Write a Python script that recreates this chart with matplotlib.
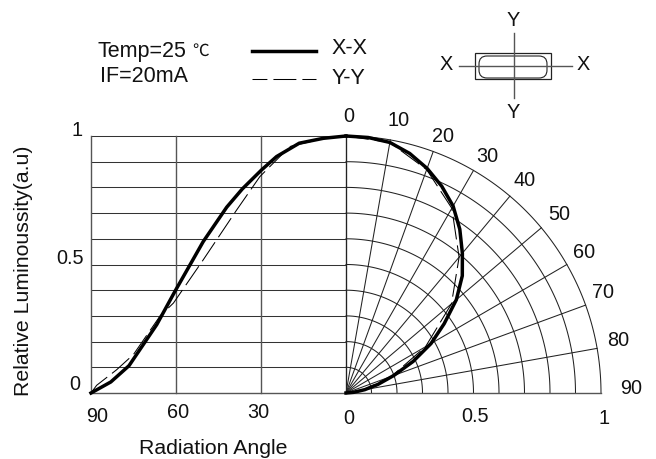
import numpy as np
import matplotlib
matplotlib.use("Agg")
import matplotlib.pyplot as plt
from matplotlib.patches import Rectangle, FancyBboxPatch

plt.rcParams['font.family'] = ['Liberation Sans', 'Noto Sans CJK SC', 'DejaVu Sans']

# Left (Cartesian) panel: angle in degrees, relative luminosity
left_xx_angle = [90, 83, 76.6, 66.8, 60.4, 50.4, 42.1, 36.6, 29.8, 24.5, 16.5, 8, 0]
left_xx_value = [0, .043, .106, .266, .395, .589, .723, .794, .868, .92, .972, .991, 1]
left_yy_angle = [90, 88, 81, 75, 65.6, 60.9, 50.4, 44.5, 38.6, 30.4, 19.8, 8, 0]
left_yy_value = [0, .03, .09, .15, .30, .35, .518, .615, .712, .842, .959, .99, 1]

# Right (polar) panel
right_xx_angle = [0, 5, 10, 15, 20, 25, 30, 35, 40, 45, 50, 55, 60, 65, 70, 75, 80, 85, 90]
right_xx_value = [1, .998, .99, .965, .93, .888, .84, .778, .71, .645, .565, .47, .385, .29, .20, .13, .075, .03, 0]
right_yy_angle = [0, 10, 20, 30, 40, 50, 60, 70, 80, 90]
right_yy_value = [1, .99, .925, .83, .69, .54, .36, .19, .07, 0]

polar_angles = [0, 10, 20, 30, 40, 50, 60, 70, 80, 90]
radii = [.1, .2, .3, .4, .5, .6, .7, .8, .9, 1]
left_angles = [90, 60, 30, 0]
left_ticks = ['90', '60', '30', '0']

W, H = 656, 459
fig = plt.figure(figsize=(W/100, H/100), dpi=100)
ax = fig.add_axes([91/W, 1-393/H, 510/W, 257/H])
ax.set_xlim(-1, 1)
ax.set_ylim(0, 1)
ax.axis('off')

G = '#333333'
lw = .75
THICK = 2.5
DASH = (22, 5.8)
for r in radii:
    ax.plot([-1, 0], [r, r], color=G, lw=lw, clip_on=False)
ax.plot([-1, 0], [0, 0], color='#555555', lw=1.0, clip_on=False)
for a in left_angles:
    ax.plot([-a/90]*2, [0, 1], color='#555555', lw=1.0, clip_on=False)

t = np.radians(np.linspace(0, 90, 91))
for r in radii:
    ax.plot(r*np.sin(t), r*np.cos(t), color='#222222', lw=lw, clip_on=False)
for a in polar_angles:
    ra = np.radians(a)
    ax.plot([0, np.sin(ra)], [0, np.cos(ra)],
            color='#555555' if a == 90 else '#222222',
            lw=1.0 if a == 90 else lw, clip_on=False)

ax.plot(-np.array(left_yy_angle)/90, left_yy_value, color='k', lw=.75,
        dashes=DASH, clip_on=False)
ax.plot(-np.array(left_xx_angle)/90, left_xx_value, color='k', lw=THICK, clip_on=False)
ry = np.radians(right_yy_angle)
ax.plot(np.array(right_yy_value)*np.sin(ry), np.array(right_yy_value)*np.cos(ry),
        color='k', lw=.75, dashes=DASH, clip_on=False)
rx = np.radians(right_xx_angle)
ax.plot(np.array(right_xx_value)*np.sin(rx), np.array(right_xx_value)*np.cos(rx),
        color='k', lw=THICK, clip_on=False)

ov = fig.add_axes([0, 0, 1, 1], facecolor='none')
ov.set_xlim(0, W)
ov.set_ylim(H, 0)
ov.axis('off')
fs = 14.3
def T(x, y, s, ha='center', va='center', size=fs, **k):
    ov.text(x, y, s, ha=ha, va=va, fontsize=size, color='#111111', **k)

T(77, 130, '1'); T(70, 258, '0.5'); T(75, 385, '0')
for s, x, y in zip(left_ticks, [97, 178, 258, 349], [417, 412, 412, 418]):
    T(x, y, s)
T(475, 417, '0.5')
T(604, 418, '1')
T(213, 454.3, 'Radiation Angle', va='baseline', size=15.3)
T(24, 270.5, 'Relative Luminoussity(a.u)', rotation=90, size=15.3)

labs = ['0', '10', '20', '30', '40', '50', '60', '70', '80', '90']
pos = [(349, 117), (399, 120), (443, 136), (487, 156), (525, 180),
       (559, 215), (584, 252), (603, 293), (618, 340), (631, 388)]
for s, (x, y) in zip(labs, pos):
    T(x, y, s)

T(98, 51, 'Temp=25', ha='left', size=15.5)
T(192, 51, '℃', ha='left', size=12, family=['Noto Sans CJK SC'])
T(100, 77, 'IF=20mA', ha='left', size=15.5)
ov.plot([252, 316], [51, 51], color='k', lw=THICK)
ov.plot([252, 316], [79, 79], color='k', lw=.75, linestyle=(7.7, DASH))
T(332, 48, 'X-X', ha='left', size=15.5)
T(332, 78, 'Y-Y', ha='left', size=15.5)

ov.add_patch(Rectangle((475, 53), 76, 26, fill=False, ec='#222222', lw=.9))
ov.add_patch(FancyBboxPatch((479, 56), 68, 22, boxstyle='round,pad=0,rounding_size=8',
                            fill=False, ec='#222222', lw=.8, mutation_aspect=1))
ov.plot([514, 514], [33, 98], color='#555555', lw=1)
ov.plot([459, 572], [66, 66], color='#555555', lw=1)
T(446, 65, 'X'); T(583, 65, 'X'); T(513, 21, 'Y'); T(513, 113, 'Y')

fig.savefig('out.png', dpi=100)
